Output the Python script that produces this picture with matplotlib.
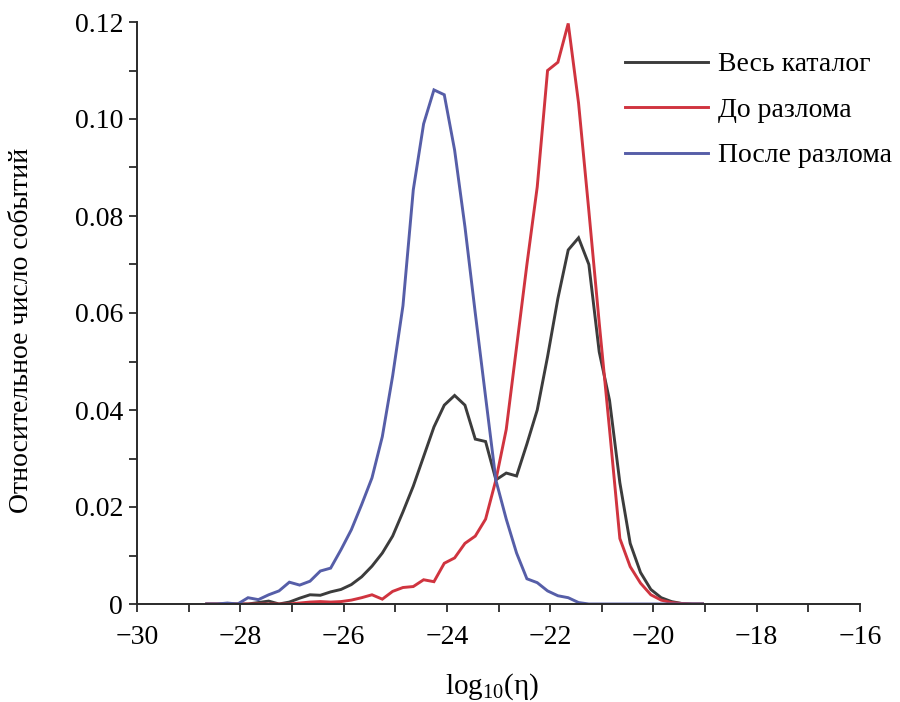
import matplotlib
matplotlib.use("Agg")
import matplotlib.pyplot as plt
from matplotlib.ticker import MultipleLocator, FixedLocator, FixedFormatter

plt.rcParams['font.family'] = ['Liberation Serif', 'DejaVu Serif']
plt.rcParams['mathtext.fontset'] = 'custom'
plt.rcParams['mathtext.rm'] = 'Liberation Serif'
plt.rcParams['mathtext.it'] = 'Liberation Serif:italic'

# Bin centres of log10(eta)
log_eta = [-28.65, -28.45, -28.25, -28.05, -27.85, -27.65, -27.45, -27.25, -27.05, -26.85,
           -26.65, -26.45, -26.25, -26.05, -25.85, -25.65, -25.45, -25.25, -25.05, -24.85,
           -24.65, -24.45, -24.25, -24.05, -23.85, -23.65, -23.45, -23.25, -23.05, -22.85,
           -22.65, -22.45, -22.25, -22.05, -21.85, -21.65, -21.45, -21.25, -21.05, -20.85,
           -20.65, -20.45, -20.25, -20.05, -19.85, -19.65, -19.45, -19.25, -19.05]

# Relative number of events
full_catalog = [0.0, 0.0, 0.0, 0.0, 0.0, 0.0003, 0.0006, 0.0, 0.0004, 0.0012,
                0.0019, 0.0018, 0.0025, 0.003, 0.004, 0.0056, 0.0078, 0.0105, 0.014, 0.019,
                0.0243, 0.0304, 0.0365, 0.041, 0.043, 0.041, 0.034, 0.0335, 0.0256, 0.027,
                0.0264, 0.033, 0.040, 0.051, 0.063, 0.073, 0.0755, 0.070, 0.052, 0.042,
                0.025, 0.0125, 0.0065, 0.003, 0.0013, 0.0005, 0.0001, 0.0, 0.0]

before_fault = [0.0, 0.0, 0.0, 0.0, 0.0, 0.0, 0.0, 0.0, 0.0, 0.0002,
                0.0004, 0.0005, 0.0004, 0.0005, 0.0008, 0.0013, 0.0019, 0.001, 0.0026, 0.0034,
                0.0036, 0.005, 0.0046, 0.0084, 0.0095, 0.0125, 0.014, 0.0175, 0.0256, 0.036,
                0.053, 0.070, 0.086, 0.110, 0.1117, 0.1197, 0.1033, 0.081, 0.058, 0.036,
                0.0135, 0.0077, 0.0043, 0.0019, 0.0008, 0.0003, 0.0001, 0.0, 0.0]

after_fault = [0.0, 0.0, 0.0002, 0.0, 0.0013, 0.0009, 0.0019, 0.0027, 0.0045, 0.0039,
               0.0047, 0.0068, 0.0074, 0.0112, 0.0153, 0.0205, 0.026, 0.0345, 0.047, 0.0615,
               0.0854, 0.099, 0.106, 0.105, 0.0936, 0.0778, 0.060, 0.0427, 0.0255, 0.0175,
               0.0105, 0.0052, 0.0044, 0.0027, 0.0017, 0.0013, 0.0003, 0.0, 0.0, 0.0,
               0.0, 0.0, 0.0, 0.0, 0.0, 0.0, 0.0, 0.0, 0.0]

labels = ["Весь каталог", "До разлома", "После разлома"]
colors = ["#3c3c3c", "#d0343f", "#565ea8"]

x_ticks = [-30, -28, -26, -24, -22, -20, -18, -16]
y_ticks = [0, 0.02, 0.04, 0.06, 0.08, 0.10, 0.12]
y_tick_labels = ['0', '0.02', '0.04', '0.06', '0.08', '0.10', '0.12']

fig = plt.figure(figsize=(9.0, 7.02), dpi=100)
ax = fig.add_axes([137 / 900, 1 - 604 / 702, (860 - 137) / 900, (604 - 22) / 702])

for series, lab, col in zip([full_catalog, before_fault, after_fault], labels, colors):
    ax.plot(log_eta, series, color=col, lw=2.1, label=lab, solid_joinstyle='miter')

ax.set_xlim(-30, -16)
ax.set_ylim(0, 0.12)

ax.spines['top'].set_visible(False)
ax.spines['right'].set_visible(False)
for s in ('left', 'bottom'):
    ax.spines[s].set_color('#2a2a2a')
    ax.spines[s].set_linewidth(1.4)

ax.xaxis.set_major_locator(FixedLocator(x_ticks))
ax.xaxis.set_minor_locator(MultipleLocator(1))
ax.yaxis.set_major_locator(FixedLocator(y_ticks))
ax.yaxis.set_major_formatter(FixedFormatter(y_tick_labels))
ax.yaxis.set_minor_locator(MultipleLocator(0.01))

ax.tick_params(which='both', direction='out', length=6, width=1.3, color='#2a2a2a',
               labelsize=20)
ax.tick_params(axis='x', pad=9)
ax.tick_params(axis='y', pad=4)

fig.text(492 / 900, 1 - 687 / 702, r"log$_{10}$(η)", fontsize=21,
         ha='center', va='center')
fig.text(22 / 900, 1 - 330 / 702, "Относительное число событий", rotation=90,
         fontsize=20, ha='center', va='center')

leg = ax.legend(loc='upper left', bbox_to_anchor=(625 / 900, 1 - 52 / 702),
                bbox_transform=fig.transFigure, frameon=False, fontsize=20,
                handlelength=3.0, handletextpad=0.36, labelspacing=0.72,
                borderpad=0, borderaxespad=0)

fig.savefig("out.png", dpi=100, facecolor='white')
